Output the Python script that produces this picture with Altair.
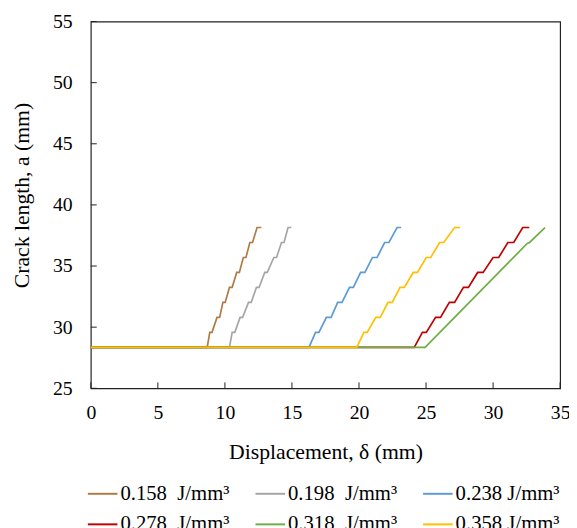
import altair as alt
import pandas as pd

NB = "\u00a0"
names = [
    "0.158" + NB + " J/mm³",
    "0.198" + NB + " J/mm³",
    "0.238 J/mm³",
    "0.278" + NB + " J/mm³",
    "0.318" + NB + " J/mm³",
    "0.358 J/mm³",
]
colors = ["#B07A45", "#A5A5A5", "#5B9BD5", "#C00000", "#70AD47", "#FFC000"]

# staircase series (displacement mm, crack length mm)
brown_x = [0, 8.68, 8.87, 9.04, 9.41, 9.61, 9.85, 10.02, 10.34, 10.54, 10.88, 11.08, 11.37, 11.57, 11.86, 12.06, 12.40, 12.72]
brown_y = [28.35, 28.35, 29.575, 29.575, 30.8, 30.8, 32.025, 32.025, 33.25, 33.25, 34.475, 34.475, 35.7, 35.7, 36.925, 36.925, 38.15, 38.15]

gray_x = [0, 10.34, 10.54, 10.74, 11.13, 11.32, 11.76, 11.96, 12.35, 12.55, 12.97, 13.16, 13.65, 13.85, 14.22, 14.41, 14.71, 14.95]
gray_y = [28.35, 28.35, 29.575, 29.575, 30.8, 30.8, 32.025, 32.025, 33.25, 33.25, 34.475, 34.475, 35.7, 35.7, 36.925, 36.925, 38.15, 38.15]

blue_x = [0, 16.27, 16.76, 17.01, 17.57, 17.92, 18.41, 18.73, 19.29, 19.58, 20.12, 20.44, 21.00, 21.35, 21.91, 22.23, 22.84, 23.14]
blue_y = [28.35, 28.35, 29.575, 29.575, 30.8, 30.8, 32.025, 32.025, 33.25, 33.25, 34.475, 34.475, 35.7, 35.7, 36.925, 36.925, 38.15, 38.15]

red_x = [0, 24.12, 24.73, 25.02, 25.71, 26.08, 26.74, 27.13, 27.79, 28.16, 28.85, 29.26, 30.00, 30.42, 31.10, 31.54, 32.21, 32.70]
red_y = [28.35, 28.35, 29.575, 29.575, 30.8, 30.8, 32.025, 32.025, 33.25, 33.25, 34.475, 34.475, 35.7, 35.7, 36.925, 36.925, 38.15, 38.15]

green_x = [0, 24.93, 32.55, 32.72, 33.87]
green_y = [28.35, 28.35, 36.85, 36.93, 38.15]

yellow_x = [0, 19.83, 20.37, 20.61, 21.25, 21.59, 22.16, 22.48, 23.06, 23.38, 24.04, 24.36, 25.02, 25.35, 26.01, 26.32, 27.13, 27.55]
yellow_y = [28.35, 28.35, 29.575, 29.575, 30.8, 30.8, 32.025, 32.025, 33.25, 33.25, 34.475, 34.475, 35.7, 35.7, 36.925, 36.925, 38.15, 38.15]

x_ticks = [0, 5, 10, 15, 20, 25, 30, 35]
y_ticks = [25, 30, 35, 40, 45, 50, 55]

series_x = [brown_x, gray_x, blue_x, red_x, green_x, yellow_x]
series_y = [brown_y, gray_y, blue_y, red_y, green_y, yellow_y]

rows = []
for name, xs, ys in zip(names, series_x, series_y):
    for i, (xv, yv) in enumerate(zip(xs, ys)):
        rows.append({"series": name, "i": i, "x": xv, "y": yv})
df = pd.DataFrame(rows)

FONT = "Liberation Serif"
W, H = 476, 372

xscale = alt.Scale(domain=[0, 35], nice=False, zero=False)
yscale = alt.Scale(domain=[25, 55], nice=False, zero=False)

lines = alt.Chart(df).mark_line(strokeWidth=1.7, interpolate="linear").encode(
    x=alt.X("x:Q", scale=xscale,
            axis=alt.Axis(values=x_ticks, title="Displacement,  δ (mm)", ticks=False, domain=False,
                          grid=False, labelPadding=15, labelFontSize=20, titleFontSize=22,
                          labelFlush=False,
                          titleX=W / 2, titleY=64, titleBaseline="middle")),
    y=alt.Y("y:Q", scale=yscale,
            axis=alt.Axis(values=y_ticks, title="Crack  length,  a (mm)", ticks=False, domain=False,
                          grid=False, labelPadding=19, labelFontSize=20, titleFontSize=22,
                          labelFlush=False,
                          titleX=-70, titleY=H / 2 - 10, titleBaseline="middle", titleAngle=270)),
    color=alt.Color("series:N", scale=alt.Scale(domain=names, range=colors),
                    legend=alt.Legend(orient="none", legendX=-4, legendY=463, columns=3,
                                      direction="horizontal",
                                      symbolType="stroke", symbolSize=900, symbolStrokeWidth=2,
                                      labelFont=FONT, labelFontSize=21, labelColor="black",
                                      title=None, columnPadding=22, rowPadding=5, labelOffset=2,
                                      gridAlign="all", labelLimit=200)),
    order=alt.Order("i:Q"),
)

xt = alt.Chart(pd.DataFrame({"v": x_ticks})).mark_rule(color="#222", strokeWidth=1).encode(
    x=alt.X("v:Q", scale=xscale), y=alt.value(H), y2=alt.value(H - 6)
)
yt = alt.Chart(pd.DataFrame({"v": y_ticks})).mark_rule(color="#222", strokeWidth=1).encode(
    y=alt.Y("v:Q", scale=yscale), x=alt.value(0), x2=alt.value(6)
)

chart = alt.layer(xt, yt, lines).properties(
    width=W, height=H,
    background="white",
    autosize=alt.AutoSizeParams(type="none"),
    padding={"left": 84, "top": 10, "right": 9, "bottom": 140},
).configure_view(stroke="#222", strokeWidth=1.2).configure_axis(
    labelFont=FONT, titleFont=FONT, labelColor="black", titleColor="black", titleFontWeight="normal"
)

chart.save("out.html", embed_options={"renderer": "svg", "actions": False})
